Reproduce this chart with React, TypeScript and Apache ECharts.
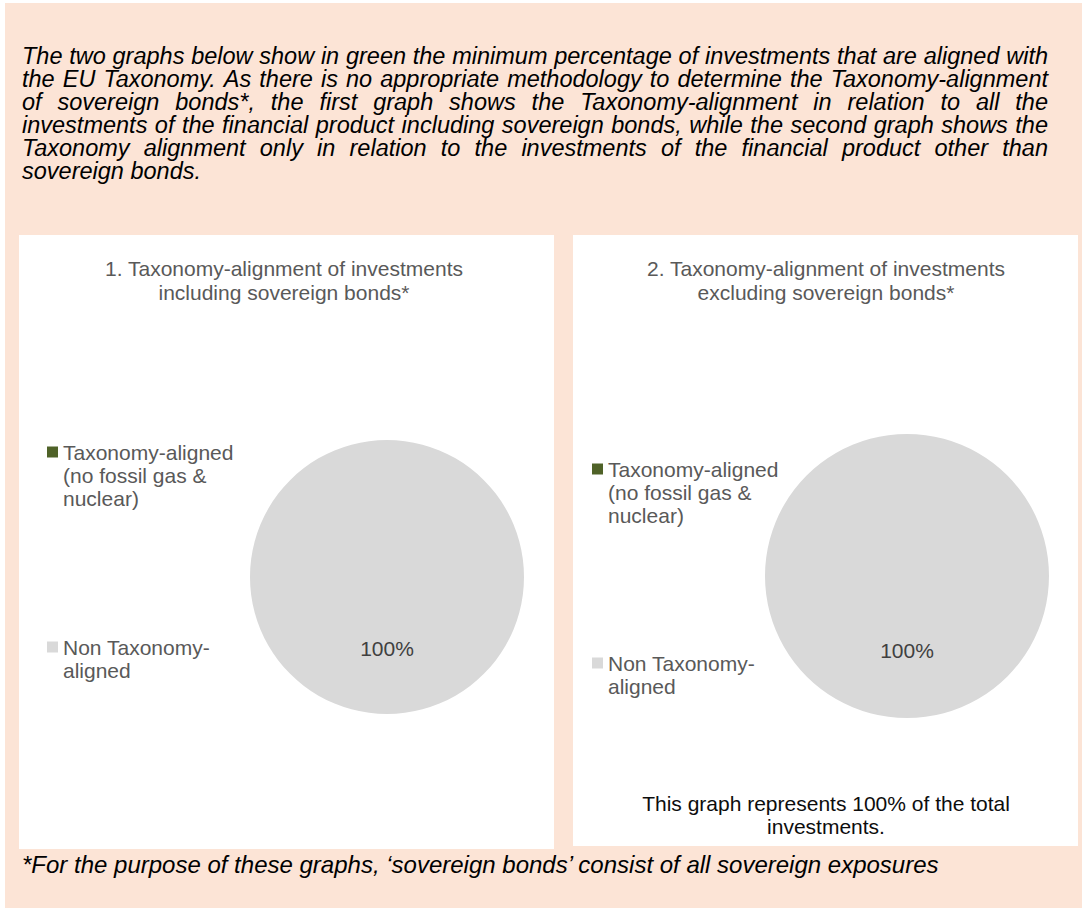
import React, { useEffect, useRef } from 'react';
import * as echarts from 'echarts';

const FONT = '"Liberation Sans", Arial, sans-serif';

const introLines = [
  'The two graphs below show in green the minimum percentage of investments that are aligned with',
  'the EU Taxonomy. As there is no appropriate methodology to determine the Taxonomy-alignment',
  'of sovereign bonds*, the first graph shows the Taxonomy-alignment in relation to all the',
  'investments of the financial product including sovereign bonds, while the second graph shows the',
  'Taxonomy alignment only in relation to the investments of the financial product other than',
  'sovereign bonds.',
];
const footnote = '*For the purpose of these graphs, \u2018sovereign bonds\u2019 consist of all sovereign exposures';
const chartTitles = [
  ['1. Taxonomy-alignment of investments', 'including sovereign bonds*'],
  ['2. Taxonomy-alignment of investments', 'excluding sovereign bonds*'],
];
const categories = ['Taxonomy-aligned (no fossil gas & nuclear)', 'Non Taxonomy-aligned'];
const legendLines = [
  ['Taxonomy-aligned', '(no fossil gas &', 'nuclear)'],
  ['Non Taxonomy-', 'aligned'],
];
const includingValues = [0, 100];
const excludingValues = [0, 100];
const sliceColors = ['#4F6228', '#D9D9D9'];
const note2 = ['This graph represents 100% of the total', 'investments.'];

const mid = (baseline: number, fs: number) => baseline - 0.3465 * fs;

function buildGraphics() {
  const els: any[] = [];
  // backgrounds
  els.push({ type: 'rect', z: 0, shape: { x: 5, y: 3, width: 1077, height: 905 }, style: { fill: '#FCE4D6' } });
  els.push({ type: 'rect', z: 0, shape: { x: 19, y: 235, width: 535, height: 614 }, style: { fill: '#FFFFFF' } });
  els.push({ type: 'rect', z: 0, shape: { x: 573, y: 235, width: 505, height: 611 }, style: { fill: '#FFFFFF' } });

  // intro paragraph, justified
  const fs = 23.5;
  const canvas = document.createElement('canvas');
  const ctx = canvas.getContext('2d') as CanvasRenderingContext2D;
  ctx.font = `italic ${fs}px "Liberation Sans"`;
  const left = 22;
  const right = 1048;
  const pitch = 23;
  const firstBase = 64;
  introLines.forEach((line, i) => {
    const y = mid(firstBase + i * pitch, fs);
    const words = line.split(' ');
    const isLast = i === introLines.length - 1;
    if (isLast) {
      els.push({
        type: 'text', z: 10, x: left, y,
        style: { text: line, font: `italic ${fs}px ${FONT}`, fill: '#000000', align: 'left', verticalAlign: 'middle' },
      });
      return;
    }
    const widths = words.map((w) => ctx.measureText(w).width);
    const total = widths.reduce((a, b) => a + b, 0);
    const gap = (right - left - total) / (words.length - 1);
    let x = left;
    words.forEach((w, k) => {
      els.push({
        type: 'text', z: 10, x, y,
        style: { text: w, font: `italic ${fs}px ${FONT}`, fill: '#000000', align: 'left', verticalAlign: 'middle' },
      });
      x += widths[k] + gap;
    });
  });

  // footnote
  els.push({
    type: 'text', z: 10, x: 22, y: mid(873, 24),
    style: { text: footnote, font: `italic 24px ${FONT}`, fill: '#000000', align: 'left', verticalAlign: 'middle' },
  });

  // chart titles
  const titleX = [284, 826];
  chartTitles.forEach((t, p) => {
    t.forEach((line, j) => {
      els.push({
        type: 'text', z: 10, x: titleX[p], y: mid(276 + j * 24, 21),
        style: { text: line, font: `21px ${FONT}`, fill: '#595959', align: 'center', verticalAlign: 'middle' },
      });
    });
  });

  // legends
  const legendPos = [
    { mx: 47, tx: 63, rows: [452, 647] },
    { mx: 592, tx: 608, rows: [469, 663] },
  ];
  legendPos.forEach((lp) => {
    legendLines.forEach((lines, k) => {
      const c = lp.rows[k];
      els.push({ type: 'rect', z: 10, shape: { x: lp.mx, y: c - 5.5, width: 11, height: 11 }, style: { fill: sliceColors[k] } });
      lines.forEach((ln, j) => {
        els.push({
          type: 'text', z: 10, x: lp.tx, y: c + j * 23,
          style: { text: ln, font: `21px ${FONT}`, fill: '#595959', align: 'left', verticalAlign: 'middle' },
        });
      });
    });
  });

  // note in panel 2
  note2.forEach((ln, j) => {
    els.push({
      type: 'text', z: 10, x: 826, y: mid(811 + j * 23, 21),
      style: { text: ln, font: `21px ${FONT}`, fill: '#0D0D0D', align: 'center', verticalAlign: 'middle' },
    });
  });
  return els;
}

function pieSeries(values: number[], center: number[], radius: number) {
  return {
    type: 'pie',
    silent: true,
    center,
    radius,
    startAngle: 90,
    clockwise: true,
    avoidLabelOverlap: false,
    itemStyle: { borderWidth: 0 },
    label: {
      show: true,
      position: 'inside',
      formatter: (p: any) => (p.value > 0 ? Math.round(p.percent) + '%' : ''),
      fontSize: 21,
      fontFamily: FONT,
      color: '#404040',
    },
    labelLine: { show: false },
    emphasis: { disabled: true },
    data: categories.map((name, i) => ({ name, value: values[i], itemStyle: { color: sliceColors[i] } })),
  };
}

export default function App() {
  const ref = useRef<HTMLDivElement>(null);
  useEffect(() => {
    if (!ref.current) return;
    const chart = echarts.init(ref.current, null, { renderer: 'svg' });
    chart.setOption({
      animation: false,
      backgroundColor: '#FFFFFF',
      graphic: { elements: buildGraphics() },
      series: [
        pieSeries(includingValues, [387, 577], 137),
        pieSeries(excludingValues, [907, 576], 142),
      ],
    });
    return () => chart.dispose();
  }, []);
  return (
    <div
      ref={ref}
      style={{ position: 'absolute', left: 0, top: 0, width: 1082, height: 908 }}
    />
  );
}
